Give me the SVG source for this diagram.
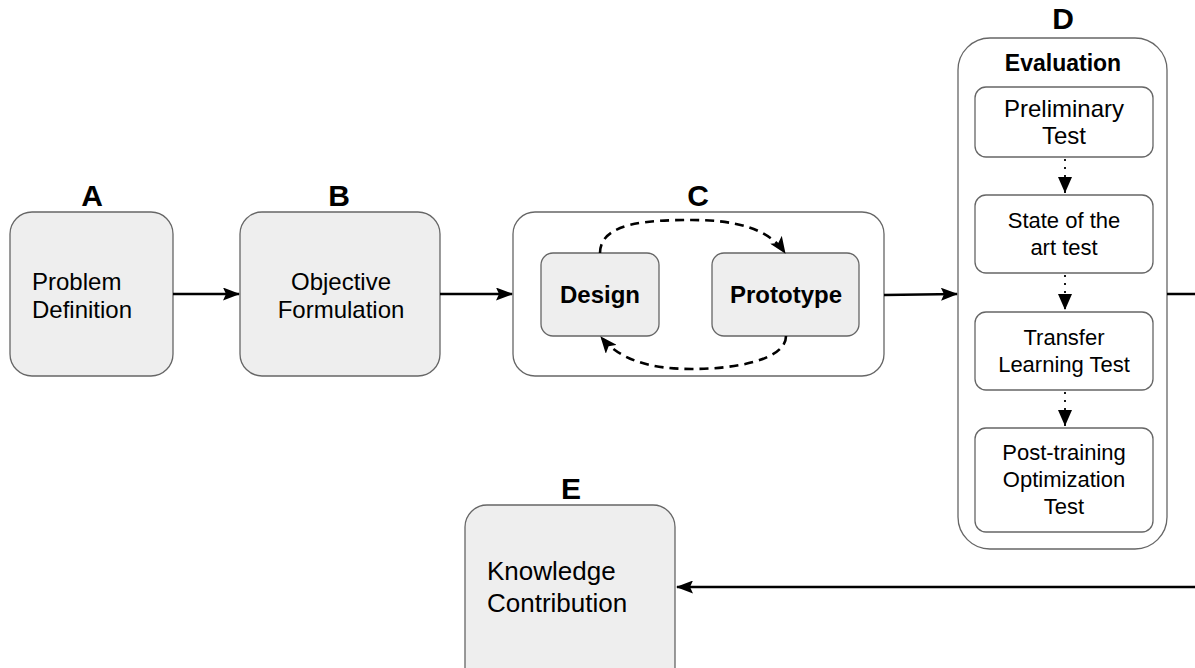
<svg xmlns="http://www.w3.org/2000/svg" width="1195" height="668" viewBox="0 0 1195 668">
  <style>
    .step { fill: #eeeeee; stroke: #666666; stroke-width: 1.3; }
    .frame { fill: #ffffff; stroke: #666666; stroke-width: 1.3; }
    .sub { fill: #ffffff; stroke: #666666; stroke-width: 1.3; }
    .letter { font-family: "Liberation Sans", Arial, sans-serif; font-size: 30px; font-weight: bold; fill: #000; text-anchor: middle; }
    .txt { font-family: "Liberation Sans", Arial, sans-serif; font-size: 24px; fill: #000; }
    .mid { text-anchor: middle; }
    .bold { font-weight: bold; }
    .small { font-size: 22px; }
    .flow { fill: none; stroke: #000; stroke-width: 2.3; }
    .loop { fill: none; stroke: #000; stroke-width: 2.6; stroke-dasharray: 9 6; }
    .dots { fill: none; stroke: #000; stroke-width: 1.8; stroke-dasharray: 2 6; }
  </style>
  <defs>
    <marker id="arrow" viewBox="0 0 17 13" refX="16" refY="6.5" markerWidth="17" markerHeight="13" markerUnits="userSpaceOnUse" orient="auto">
      <path d="M0,0 L17,6.5 L0,13 L3,6.5 z" fill="#000"/>
    </marker>
    <marker id="arrowLoop" viewBox="0 0 17 14" refX="16" refY="7" markerWidth="17" markerHeight="14" markerUnits="userSpaceOnUse" orient="auto">
      <path d="M0,0 L17,7 L0,14 L4,7 z" fill="#000"/>
    </marker>
    <marker id="arrowDown" viewBox="0 0 14 16" refX="7" refY="16" markerWidth="14" markerHeight="16" markerUnits="userSpaceOnUse" orient="0">
      <path d="M0,0 L14,0 L7,16 z" fill="#000"/>
    </marker>
  </defs>

  <!-- A: problem definition -->
  <g id="nodeA">
    <text class="letter" x="92" y="206">A</text>
    <rect class="step" x="10" y="212" width="163" height="164" rx="22"/>
    <text class="txt" x="32" y="290">Problem</text>
    <text class="txt" x="32" y="318">Definition</text>
  </g>

  <!-- B: objective formulation -->
  <g id="nodeB">
    <text class="letter" x="339" y="206">B</text>
    <rect class="step" x="240" y="212" width="200" height="164" rx="22"/>
    <text class="txt mid" x="341" y="290">Objective</text>
    <text class="txt mid" x="341" y="318">Formulation</text>
  </g>

  <!-- C: design / prototype cycle -->
  <g id="nodeC">
    <text class="letter" x="698" y="206">C</text>
    <rect class="frame" x="513" y="212" width="371" height="164" rx="22"/>
  </g>
  <g id="nodeDesign">
    <rect class="step" x="541" y="253" width="118" height="83" rx="12"/>
    <text class="txt mid bold" x="600" y="303">Design</text>
  </g>
  <g id="nodePrototype">
    <rect class="step" x="712" y="253" width="147" height="83" rx="12"/>
    <text class="txt mid bold" x="786" y="303">Prototype</text>
  </g>

  <!-- D: evaluation -->
  <g id="nodeD">
    <text class="letter" x="1063" y="29">D</text>
    <rect class="frame" x="958" y="38" width="209" height="511" rx="32"/>
    <text class="txt mid bold" x="1063" y="71" style="font-size:23px">Evaluation</text>
  </g>
  <g id="nodePreliminary">
    <rect class="sub" x="975" y="87" width="178" height="70" rx="11"/>
    <text class="txt mid" x="1064" y="117">Preliminary</text>
    <text class="txt mid" x="1064" y="144">Test</text>
  </g>
  <g id="nodeStateOfArt">
    <rect class="sub" x="975" y="195" width="178" height="78" rx="11"/>
    <text class="txt mid small" x="1064" y="228">State of the</text>
    <text class="txt mid small" x="1064" y="255">art test</text>
  </g>
  <g id="nodeTransfer">
    <rect class="sub" x="975" y="312" width="178" height="78" rx="11"/>
    <text class="txt mid small" x="1064" y="345">Transfer</text>
    <text class="txt mid small" x="1064" y="372">Learning Test</text>
  </g>
  <g id="nodePostTraining">
    <rect class="sub" x="975" y="428" width="178" height="104" rx="11"/>
    <text class="txt mid small" x="1064" y="460">Post-training</text>
    <text class="txt mid small" x="1064" y="487">Optimization</text>
    <text class="txt mid small" x="1064" y="514">Test</text>
  </g>

  <!-- E: knowledge contribution -->
  <g id="nodeE">
    <text class="letter" x="571" y="499">E</text>
    <rect class="step" x="465" y="505" width="210" height="190" rx="22"/>
    <text class="txt" x="487" y="580" style="font-size:26px">Knowledge</text>
    <text class="txt" x="487" y="612" style="font-size:26px">Contribution</text>
  </g>

  <!-- connectors -->
  <g id="connectors">
    <path class="flow" d="M173,294 L239,294" marker-end="url(#arrow)"/>
    <path class="flow" d="M440,294 L512,294" marker-end="url(#arrow)"/>
    <path class="flow" d="M884,295 L957,294" marker-end="url(#arrow)"/>
    <path class="loop" d="M600,253 C600,222 650,220 692,220 C735,220 768,228 785,253" marker-end="url(#arrowLoop)"/>
    <path class="loop" d="M786,336 C786,360 735,369 692,369 C650,369 620,360 601,337" marker-end="url(#arrowLoop)"/>
    <path class="dots" d="M1065,159 L1065,193" marker-end="url(#arrowDown)"/>
    <path class="dots" d="M1065,275 L1065,310" marker-end="url(#arrowDown)"/>
    <path class="dots" d="M1065,392 L1065,426" marker-end="url(#arrowDown)"/>
    <path class="flow" d="M1167,294 L1205,294 L1205,587 L677,587" marker-end="url(#arrow)"/>
  </g>
</svg>
